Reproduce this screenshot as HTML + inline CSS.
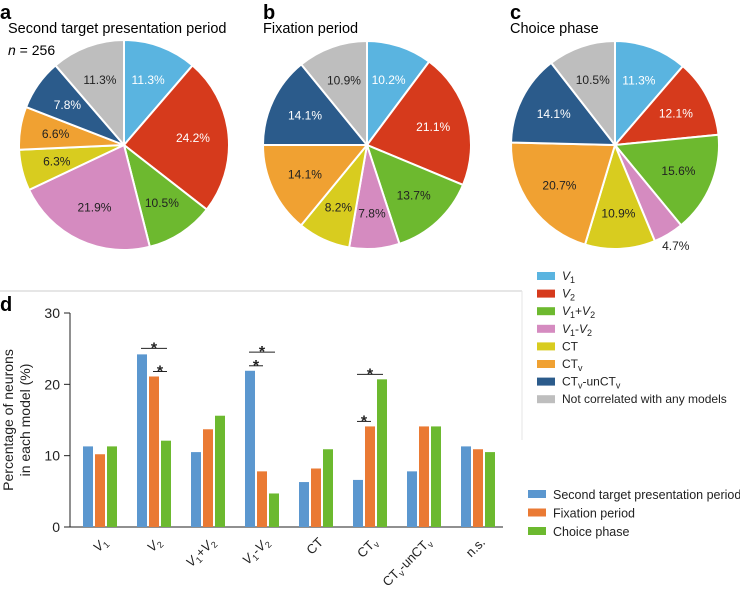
<!DOCTYPE html>
<html><head><meta charset="utf-8"><style>
body{margin:0;background:#fff;}
svg text{font-family:"Liberation Sans",sans-serif;}
</style></head><body>
<svg id="fig" width="740" height="587" viewBox="0 0 740 587" xmlns="http://www.w3.org/2000/svg">
<line x1="0" y1="291" x2="522" y2="291" stroke="#e6e6e6" stroke-width="2"/>
<line x1="522" y1="291" x2="522" y2="440" stroke="#e6e6e6" stroke-width="1"/>
<text x="0" y="19" font-size="20" font-weight="bold">a</text>
<text x="8" y="33" font-size="14.5">Second target presentation period</text>
<text x="8" y="55" font-size="14"><tspan font-style="italic">n</tspan> = 256</text>
<text x="263" y="19" font-size="20" font-weight="bold">b</text>
<text x="263" y="33" font-size="14.5">Fixation period</text>
<text x="510" y="19" font-size="20" font-weight="bold">c</text>
<text x="510" y="33" font-size="14.5">Choice phase</text>
<text x="0" y="311" font-size="20" font-weight="bold">d</text>
<g id="pies"></g>
<g id="legend1"></g>
<g id="bars"></g>
</svg>
<script>
const pieA=[11.3,24.2,10.5,21.9,6.3,6.6,7.8,11.3];
const pieB=[10.2,21.1,13.7,7.8,8.2,14.1,14.1,10.9];
const pieC=[11.3,12.1,15.6,4.7,10.9,20.7,14.1,10.5];
const pieColors=["#5ab4e0","#d63a1c","#6db92f","#d58bc0","#d8cc1f","#f0a132","#2b5b8b","#bebebe"];
const textColors=["#fff","#fff","#222","#222","#222","#222","#fff","#222"];
const legendLabels=['<tspan font-style="italic">V</tspan><tspan font-size="9" dy="3">1</tspan>',
'<tspan font-style="italic">V</tspan><tspan font-size="9" dy="3">2</tspan>',
'<tspan font-style="italic">V</tspan><tspan font-size="9" dy="3">1</tspan><tspan dy="-3">+</tspan><tspan font-style="italic">V</tspan><tspan font-size="9" dy="3">2</tspan>',
'<tspan font-style="italic">V</tspan><tspan font-size="9" dy="3">1</tspan><tspan dy="-3">-</tspan><tspan font-style="italic">V</tspan><tspan font-size="9" dy="3">2</tspan>',
'CT','CT<tspan font-size="9" dy="3">v</tspan>','CT<tspan font-size="9" dy="3">v</tspan><tspan dy="-3">-unCT</tspan><tspan font-size="9" dy="3">v</tspan>','Not correlated with any models'];
const NS="http://www.w3.org/2000/svg";
function mk(tag,attrs,parent){const e=document.createElementNS(NS,tag);for(const k in attrs)e.setAttribute(k,attrs[k]);parent.appendChild(e);return e;}
const pies=document.getElementById('pies');
function drawPie(vals,cx,cy,r,name){
  const total=vals.reduce((a,b)=>a+b,0);let a0=0;
  vals.forEach((v,i)=>{
    const a1=a0+v/total*2*Math.PI;
    const x0=cx+r*Math.sin(a0),y0=cy-r*Math.cos(a0),x1=cx+r*Math.sin(a1),y1=cy-r*Math.cos(a1);
    const p=mk('path',{d:`M${cx},${cy}L${x0},${y0}A${r},${r} 0 ${a1-a0>Math.PI?1:0} 1 ${x1},${y1}Z`,fill:pieColors[i],stroke:'#fff','stroke-width':2},pies);
    
    
    const am=(a0+a1)/2;const lr=v<5?r+14:r*0.66;
    const t=mk('text',{x:cx+lr*Math.sin(am),y:cy-lr*Math.cos(am)+4,'font-size':12,'text-anchor':'middle',fill:v<5?'#222':textColors[i]},pies);
    t.textContent=v.toFixed(1)+'%';
    
    
    a0=a1;
  });
}
drawPie(pieA,124,145,105,'pie-a');
drawPie(pieB,367,145,104,'pie-b');
drawPie(pieC,615,145,104,'pie-c');
const lg=document.getElementById('legend1');
legendLabels.forEach((l,i)=>{
  const y=276+i*17.6;
  const r=mk('rect',{x:537,y:y-4,width:18,height:8,fill:pieColors[i]},lg);
  
  
  const t=mk('text',{x:562,y:y+4,'font-size':12,fill:'#222'},lg);
  t.innerHTML=l;
  
  
});
const categories=['V1','V2','V1+V2','V1-V2','CT','CTv','CTv-unCTv','n.s.'];
const catLabels=['<tspan font-style="italic">V</tspan><tspan font-size="9" dy="3">1</tspan>',
'<tspan font-style="italic">V</tspan><tspan font-size="9" dy="3">2</tspan>',
'<tspan font-style="italic">V</tspan><tspan font-size="9" dy="3">1</tspan><tspan dy="-3">+</tspan><tspan font-style="italic">V</tspan><tspan font-size="9" dy="3">2</tspan>',
'<tspan font-style="italic">V</tspan><tspan font-size="9" dy="3">1</tspan><tspan dy="-3">-</tspan><tspan font-style="italic">V</tspan><tspan font-size="9" dy="3">2</tspan>',
'CT','CT<tspan font-size="9" dy="3">v</tspan>','CT<tspan font-size="9" dy="3">v</tspan><tspan dy="-3">-unCT</tspan><tspan font-size="9" dy="3">v</tspan>','n.s.'];
const secondTarget=[11.3,24.2,10.5,21.9,6.3,6.6,7.8,11.3];
const fixation=[10.2,21.1,13.7,7.8,8.2,14.1,14.1,10.9];
const choice=[11.3,12.1,15.6,4.7,10.9,20.7,14.1,10.5];
const seriesNames=['Second target presentation period','Fixation period','Choice phase'];
const barColors=['#5b97cf','#ea7a34','#6cb92f'];
const yTicks=[0,10,20,30];
const sigs=[[1,0,2,0],[1,1,2,1],[3,0,1,1],[3,0,2,0],[5,0,1,1],[5,0,2,0]];
const bars=document.getElementById('bars');
const y0=527,y30=313;
const Y=v=>y0-(v/30)*(y0-y30);
const X=(c,s)=>83+c*54+s*12;
mk('line',{x1:70,y1:y30,x2:70,y2:y0,stroke:'#222','stroke-width':1},bars);
mk('line',{x1:70,y1:y0,x2:503,y2:y0,stroke:'#222','stroke-width':1},bars);
yTicks.forEach(v=>{
  mk('line',{x1:64,y1:Y(v),x2:70,y2:Y(v),stroke:'#222'},bars);
  const t=mk('text',{x:60,y:Y(v)+5,'font-size':14,'text-anchor':'end',fill:'#222'},bars);
  t.textContent=v;
  
  
});
const yt=mk('text',{transform:'translate(13,420) rotate(-90)','font-size':14,'text-anchor':'middle',fill:'#222'},bars);
yt.innerHTML='<tspan x="0" dy="0">Percentage of neurons</tspan><tspan x="0" dy="17">in each model (%)</tspan>';


[secondTarget,fixation,choice].forEach((ser,s)=>{
  ser.forEach((v,c)=>{
    const r=mk('rect',{x:X(c,s),y:Y(v),width:10,height:y0-Y(v),fill:barColors[s]},bars);
    
    
  });
});
const allS=[secondTarget,fixation,choice];
sigs.forEach((g,i)=>{
  const [c,a,b,lvl]=g;
  const top=Math.max(allS[a][c],allS[b][c]);
  const xa=X(c,a)+5,xb=X(c,b)+5;
  let lineY=Y(top)-5;
  if(c===1&&a===0) lineY=Y(24.2)-6;
  if(c===3&&b===2) lineY=Y(22)-18;
  mk('line',{x1:xa-1,y1:lineY,x2:xb+1,y2:lineY,stroke:'#222'},bars);
  const t=mk('text',{x:(xa+xb)/2,y:lineY+5,'font-size':16,'font-weight':'bold','text-anchor':'middle',fill:'#222'},bars);
  t.textContent='*';
  
  
});
catLabels.forEach((l,c)=>{
  const cx=X(c,1)+5;
  const t=mk('text',{transform:`translate(${cx+8},${y0+16}) rotate(-45)`,'font-size':13,'text-anchor':'end',fill:'#222'},bars);
  t.innerHTML=l;
  
  
});
seriesNames.forEach((n,s)=>{
  const y=494+s*18.5;
  const r=mk('rect',{x:528,y:y-4,width:18,height:8,fill:barColors[s]},bars);
  
  
  const t=mk('text',{x:553,y:y+5,'font-size':12.5,fill:'#222'},bars);
  t.textContent=n;
  
  
});
</script>
</body></html>
